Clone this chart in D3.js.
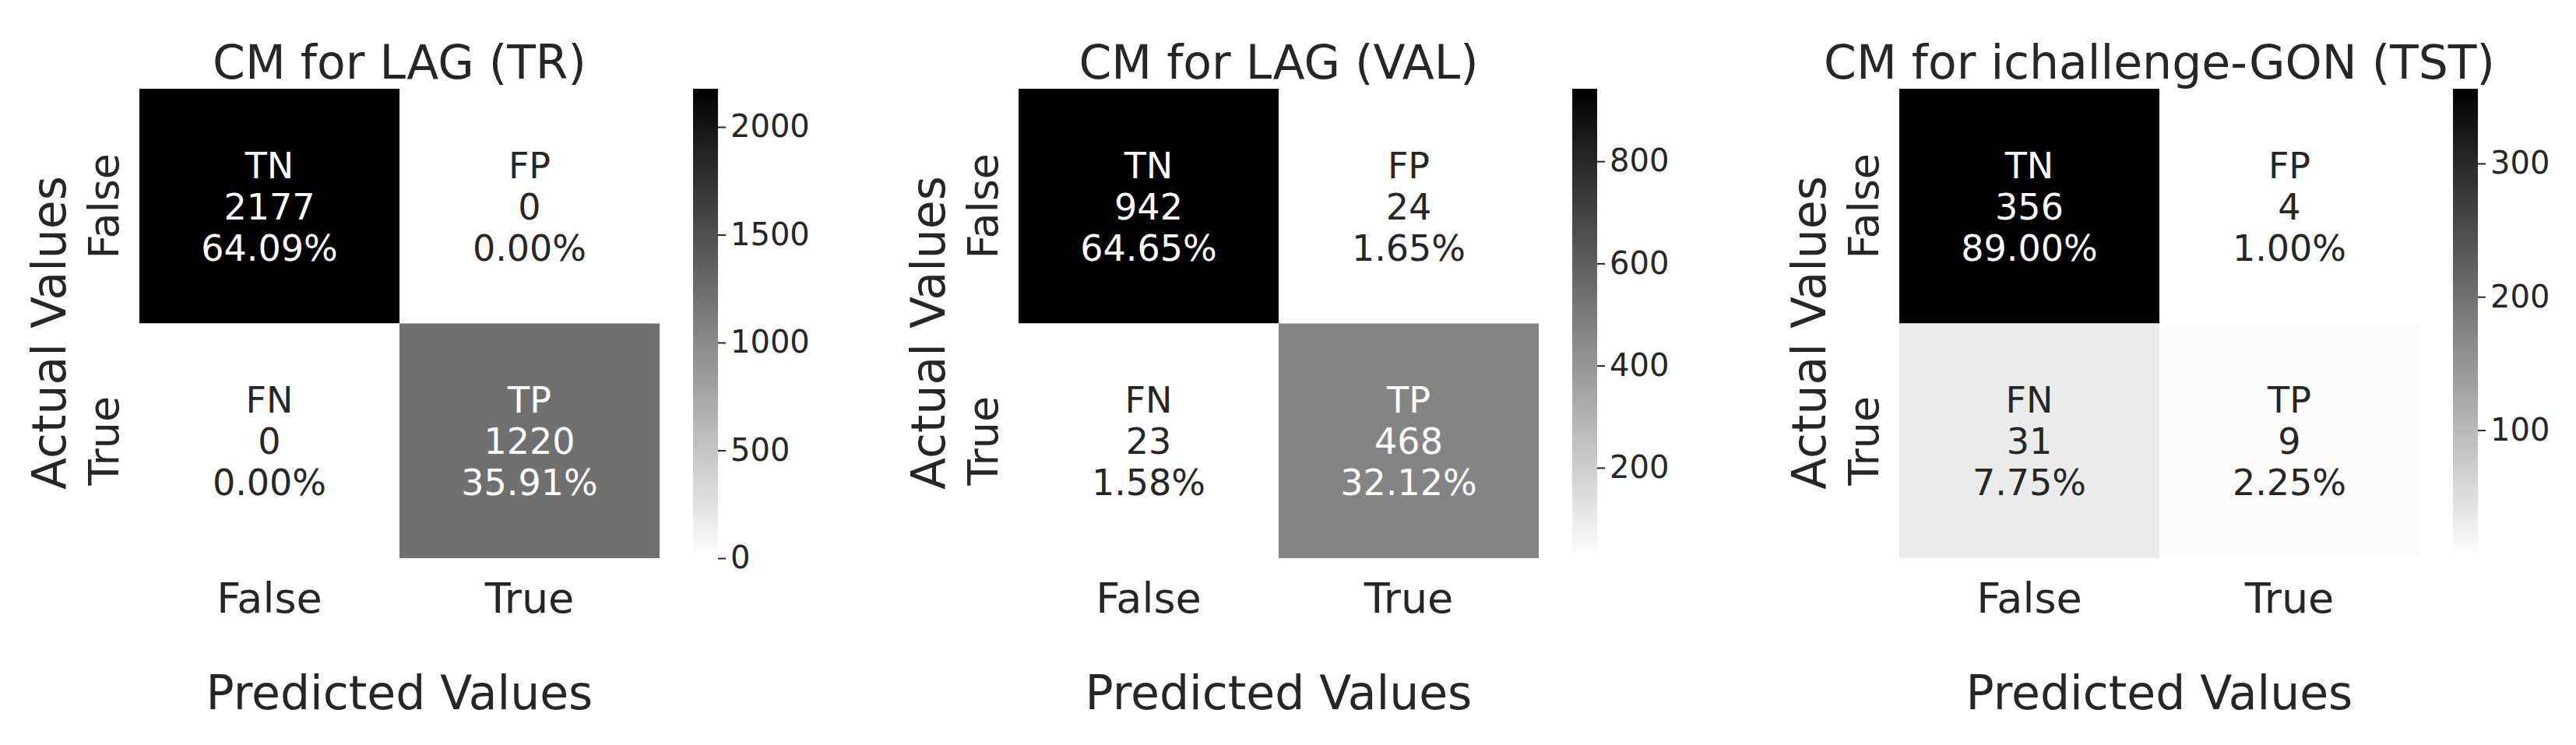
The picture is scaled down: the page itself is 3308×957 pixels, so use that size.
<!DOCTYPE html>
<html lang="en">
<head>
<meta charset="UTF-8">
<title>Confusion matrices</title>
<script src="https://d3js.org/d3.v7.min.js"></script>
<style>
  body { margin: 0; background: #fff; }
  svg text { font-family: "DejaVu Sans", sans-serif; }
</style>
</head>
<body>
<svg id="chart" width="3308" height="957"></svg>
<script>
// data, one small array per panel
const titles = ["CM for LAG (TR)", "CM for LAG (VAL)", "CM for ichallenge-GON (TST)"];
const cellNames = ["TN", "FP", "FN", "TP"];
const classLabels = ["False", "True"];
const countsTR = [2177, 0, 0, 1220];
const countsVAL = [942, 24, 23, 468];
const countsTST = [356, 4, 31, 9];
const allCounts = [countsTR, countsVAL, countsTST];

const svg = d3.select("#chart");
const ink = "#262626";
const heatLefts = [179, 1308, 2439];
const heatW = 668, heatTop = 114, heatBottom = 717;

// relative luminance, same rule seaborn uses to pick annotation colour
function luminance(col) {
  const c = d3.color(col);
  const lin = v => { v /= 255; return v <= 0.03928 ? v / 12.92 : Math.pow((v + 0.055) / 1.055, 2.4); };
  return 0.2126 * lin(c.r) + 0.7152 * lin(c.g) + 0.0722 * lin(c.b);
}

allCounts.forEach((counts, p) => {
  const left = heatLefts[p];
  const g = svg.append("g").attr("transform", `translate(${left},0)`);
  const total = d3.sum(counts);
  const [lo, hi] = d3.extent(counts);
  const color = d3.scaleSequential(d3.interpolateRgb("#ffffff", "#000000")).domain([lo, hi]);

  const x = d3.scaleBand().domain(classLabels).range([0, heatW]);
  const y = d3.scaleBand().domain(classLabels).range([heatTop, heatBottom]);

  const cells = counts.map((v, i) => ({
    v, name: cellNames[i],
    row: classLabels[Math.floor(i / 2)], col: classLabels[i % 2]
  }));

  g.selectAll("rect.cell").data(cells).join("rect")
    .attr("x", d => x(d.col)).attr("y", d => y(d.row))
    .attr("width", x.bandwidth()).attr("height", y.bandwidth())
    .attr("fill", d => color(d.v));

  cells.forEach(d => {
    const cx = x(d.col) + x.bandwidth() / 2;
    const cyy = y(d.row) + y.bandwidth() / 2;
    const lines = [d.name, String(d.v), (100 * d.v / total).toFixed(2) + "%"];
    lines.forEach((s, k) => {
      g.append("text").attr("x", cx).attr("y", cyy + (k - 1) * 53 + 17)
        .attr("text-anchor", "middle").attr("font-size", 46)
        .attr("fill", luminance(color(d.v)) > 0.408 ? ink : "#ffffff").text(s);
    });
  });

  // tick labels
  classLabels.forEach(l => {
    g.append("text").attr("x", x(l) + x.bandwidth() / 2).attr("y", 787)
      .attr("text-anchor", "middle").attr("font-size", 54).attr("fill", ink).text(l);
    g.append("text")
      .attr("transform", `translate(-27,${y(l) + y.bandwidth() / 2}) rotate(-90)`)
      .attr("text-anchor", "middle")
      .attr("font-size", 54).attr("fill", ink).text(l);
  });

  g.append("text").attr("x", heatW / 2).attr("y", 101)
    .attr("text-anchor", "middle").attr("font-size", 60).attr("fill", ink).text(titles[p]);
  g.append("text").attr("x", heatW / 2).attr("y", 911)
    .attr("text-anchor", "middle").attr("font-size", 60).attr("fill", ink).text("Predicted Values");
  g.append("text")
    .attr("transform", `translate(-95,${(heatTop + heatBottom) / 2 + 12}) rotate(-90)`)
    .attr("text-anchor", "middle")
    .attr("font-size", 60).attr("fill", ink).text("Actual Values");

  // colorbar
  const cbX = 711, cbW = 32;
  const cy = d3.scaleLinear().domain([lo, hi]).range([heatBottom, heatTop]);
  const gradId = "grad" + p;
  const grad = svg.append("defs").append("linearGradient").attr("id", gradId)
    .attr("x1", 0).attr("y1", 1).attr("x2", 0).attr("y2", 0);
  d3.range(0, 1.0001, 0.1).forEach(s => {
    grad.append("stop").attr("offset", s).attr("stop-color", color(lo + s * (hi - lo)));
  });
  g.append("rect").attr("x", cbX).attr("y", heatTop).attr("width", cbW)
    .attr("height", heatBottom - heatTop).attr("fill", `url(#${gradId})`);
  const axis = g.append("g").attr("transform", `translate(${cbX + cbW},0)`)
    .call(d3.axisRight(cy).ticks(4).tickFormat(d3.format("d")).tickSize(10).tickPadding(6));
  axis.select(".domain").remove();
  axis.selectAll("line").attr("stroke", ink).attr("stroke-width", 2);
  axis.selectAll("text").attr("font-size", 40).attr("fill", ink)
    .style("font-family", "DejaVu Sans");
});
</script>
</body>
</html>
